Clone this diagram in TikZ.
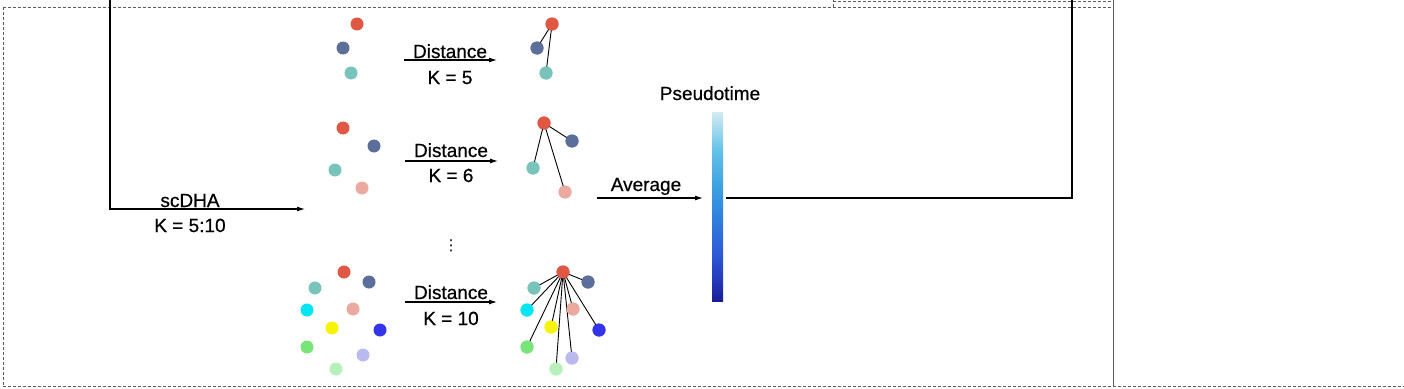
\documentclass[tikz,border=0pt]{standalone}
\usepackage{fontspec}
\setmainfont{Liberation Sans}
\newfontfamily\lblfont[FakeBold=0.6]{Liberation Sans}
\newfontfamily\dejavu{DejaVu Sans}
\usetikzlibrary{arrows.meta}
\definecolor{cRed}{RGB}{224,88,68}
\definecolor{cSlate}{RGB}{92,110,154}
\definecolor{cTeal}{RGB}{120,196,186}
\definecolor{cPink}{RGB}{234,170,160}
\definecolor{cCyan}{RGB}{0,228,244}
\definecolor{cYellow}{RGB}{246,244,0}
\definecolor{cBlue}{RGB}{52,52,234}
\definecolor{cGreen}{RGB}{120,228,122}
\definecolor{cLav}{RGB}{186,186,240}
\definecolor{cLGreen}{RGB}{182,240,186}
\definecolor{cbA}{RGB}{25,30,150}
\definecolor{cbB}{RGB}{35,55,185}
\definecolor{cbC}{RGB}{45,90,215}
\definecolor{cbD}{RGB}{48,130,222}
\definecolor{cbE}{RGB}{60,160,225}
\definecolor{cbF}{RGB}{100,195,232}
\definecolor{cbG}{RGB}{212,235,242}
\definecolor{frameGray}{RGB}{90,90,90}
\pgfdeclareverticalshading{pseudoshade}{100bp}{color(0bp)=(cbA); color(25bp)=(cbA); color(30bp)=(cbB); color(37.5bp)=(cbC); color(47.5bp)=(cbD); color(55bp)=(cbE); color(65bp)=(cbF); color(75bp)=(cbG); color(100bp)=(cbG)}
\begin{document}
\begin{tikzpicture}[x=1pt,y=-1pt,
  dot/.style={circle,inner sep=0pt,minimum size=13pt,draw=none,fill=#1},
  lbl/.style={font=\lblfont\fontsize{19}{22}\selectfont,inner sep=0pt,anchor=base},
  conn/.style={line width=1.2pt},
  link/.style={line width=0.9pt},
  arr/.style={line width=1.1pt,-{Latex[length=8pt,width=5pt]}},
  dashframe/.style={frameGray,dash pattern=on 3pt off 2pt,line width=0.7pt}]
\useasboundingbox (0,0) rectangle (1404,388);
\fill[white] (0,0) rectangle (1404,388);

% frame
\coordinate (fTL) at (3,7);
\coordinate (fBL) at (3,386);
\coordinate (fTR) at (1113,7);
\coordinate (fBR) at (1404,386);
\coordinate (tabL) at (833,0);
\coordinate (tabLb) at (833,7);
\coordinate (tabR) at (1113,1);
\coordinate (rTop) at (1113,0);
\coordinate (rBot) at (1113,386);
\draw[dashframe] (fTL) -- (fTR);
\draw[dashframe] (fTL) -- (fBL);
\draw[dashframe] (fBL) -- (fBR);
\draw[dashframe] (tabLb) -- (tabL);
\draw[dashframe] (tabL |- tabR) -- (tabR);
\draw[frameGray,line width=0.8pt] (rTop) -- (rBot);

% scDHA input connector
\coordinate (inTop) at (110,0);
\coordinate (scIn) at (305,209);
\draw[arr] (inTop) |- (scIn);
\node[lbl] (scdha) at (190,207) {scDHA};
\node[lbl] (krange) at (190,232) {K = 5:10};

% group 1 input
\node[dot=cRed] (a1) at (357,24) {};
\node[dot=cSlate] (a2) at (343,48) {};
\node[dot=cTeal] (a3) at (351,73) {};
% group 1 arrow
\coordinate (d1s) at (404,60);
\coordinate (d1e) at (497,60);
\draw[arr] (d1s) -- (d1e);
\node[lbl] (dist1) at (450,58) {Distance};
\node[lbl] (k1) at (450,84) {K = 5};
% group 1 output
\node[dot=cRed] (A1) at (552,24) {};
\node[dot=cSlate] (A2) at (537,48) {};
\node[dot=cTeal] (A3) at (546,73) {};
\draw[link] (A1.center) -- (A2.center);
\draw[link] (A1.center) -- (A3.center);
\node[dot=cRed] at (A1) {};
\node[dot=cSlate] at (A2) {};
\node[dot=cTeal] at (A3) {};

% group 2 input
\node[dot=cRed] (b1) at (343,128) {};
\node[dot=cSlate] (b2) at (374,146) {};
\node[dot=cTeal] (b3) at (335,170) {};
\node[dot=cPink] (b4) at (362,188) {};
\coordinate (d2s) at (405,161);
\coordinate (d2e) at (498,161);
\draw[arr] (d2s) -- (d2e);
\node[lbl] (dist2) at (451,157) {Distance};
\node[lbl] (k2) at (451,182) {K = 6};
% group 2 output
\node[dot=cRed] (B1) at (544,123) {};
\node[dot=cSlate] (B2) at (572,141) {};
\node[dot=cTeal] (B3) at (533,168) {};
\node[dot=cPink] (B4) at (565,192) {};
\draw[link] (B1.center) -- (B2.center);
\draw[link] (B1.center) -- (B3.center);
\draw[link] (B1.center) -- (B4.center);
\node[dot=cRed] at (B1) {};
\node[dot=cSlate] at (B2) {};
\node[dot=cTeal] at (B3) {};
\node[dot=cPink] at (B4) {};

% vertical dots
\node[inner sep=0pt,font=\dejavu\fontsize{15}{17}\selectfont] (vd) at (451,246) {⋮};

% group 3 input
\node[dot=cRed] (c1) at (344,272) {};
\node[dot=cSlate] (c2) at (369,282) {};
\node[dot=cTeal] (c3) at (315,288) {};
\node[dot=cCyan] (c4) at (307,310) {};
\node[dot=cPink] (c5) at (353,309) {};
\node[dot=cYellow] (c6) at (332,328) {};
\node[dot=cBlue] (c7) at (380,330) {};
\node[dot=cGreen] (c8) at (307,347) {};
\node[dot=cLav] (c9) at (363,355) {};
\node[dot=cLGreen] (c10) at (336,369) {};
\coordinate (d3s) at (405,302);
\coordinate (d3e) at (497,302);
\draw[arr] (d3s) -- (d3e);
\node[lbl] (dist3) at (451,299) {Distance};
\node[lbl] (k3) at (451,325) {K = 10};
% group 3 output
\node[dot=cRed] (C1) at (563,272) {};
\node[dot=cSlate] (C2) at (588,282) {};
\node[dot=cTeal] (C3) at (534,288) {};
\node[dot=cCyan] (C4) at (527,310) {};
\node[dot=cPink] (C5) at (573,309) {};
\node[dot=cYellow] (C6) at (551,327) {};
\node[dot=cBlue] (C7) at (599,330) {};
\node[dot=cGreen] (C8) at (527,347) {};
\node[dot=cLav] (C9) at (572,358) {};
\node[dot=cLGreen] (C10) at (556,369) {};
\foreach \t in {C2,C3,C4,C5,C6,C7,C8,C9,C10}{\draw[link] (C1.center) -- (\t.center);}
\node[dot=cRed] at (C1) {};
\node[dot=cSlate] at (C2) {};
\node[dot=cTeal] at (C3) {};
\node[dot=cCyan] at (C4) {};
\node[dot=cPink] at (C5) {};
\node[dot=cYellow] at (C6) {};
\node[dot=cBlue] at (C7) {};
\node[dot=cGreen] at (C8) {};
\node[dot=cLav] at (C9) {};
\node[dot=cLGreen] at (C10) {};

% average
\coordinate (avgS) at (597,198);
\coordinate (avgT) at (703,198);
\draw[arr] (avgS) -- (avgT);
\node[lbl] (avg) at (646,191) {Average};

% pseudotime bar
\node[lbl] (pt) at (710,100) {Pseudotime};
\node[inner sep=0pt,minimum width=11pt,minimum height=189pt,shading=pseudoshade] (cbar) at (717.5,206.5) {};

% output connector
\coordinate (outTop) at (1072,0);
\draw[conn,shorten <=3pt] (cbar.east |- avgT) -| (outTop);
\end{tikzpicture}
\end{document}
